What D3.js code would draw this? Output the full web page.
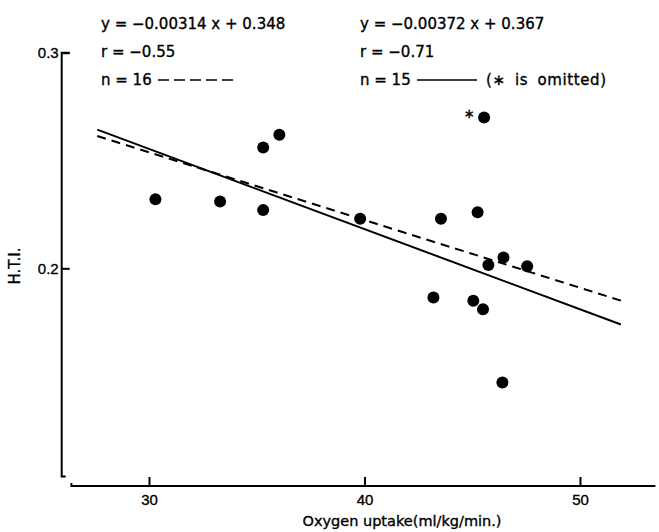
<!DOCTYPE html>
<html>
<head>
<meta charset="utf-8">
<script src="https://cdn.jsdelivr.net/npm/d3@7"></script>
<style>
  body { margin: 0; background: #fff; }
  svg { display: block; font-family: "DejaVu Sans", sans-serif; }
  svg text { stroke: #000; stroke-width: 0.35px; fill: #000; }
</style>
</head>
<body>
<div class="chart"></div>
<script>
// oxygen uptake (ml/kg/min) and H.T.I. for each subject
const oxygen = [30.3, 33.3, 35.3, 36.05, 35.3, 39.8, 43.55, 45.25, 45.55, 46.45, 45.75, 47.55, 43.2, 45.05, 45.5, 46.4];
const hti    = [0.232, 0.231, 0.256, 0.262, 0.227, 0.223, 0.223, 0.226, 0.270, 0.205, 0.2015, 0.201, 0.1865, 0.185, 0.181, 0.147];
const omitted = [8]; // index of the point marked with *

// regression lines (slope, intercept)
const fitAll = { slope: -0.00314, intercept: 0.348, dash: '9,6' };   // n = 16
const fitOmit = { slope: -0.00372, intercept: 0.367, dash: null };   // n = 15
const fitRange = [27.6, 51.9];

const xTicks = [30, 40, 50];
const yTicks = [0.2, 0.3];

const width = 659, height = 532;

const x = d3.scaleLinear().domain([26.4, 53.5]).range([71.4, 655.4]);
const y = d3.scaleLinear().domain([0.1035, 0.3]).range([476.4, 52.7]);

const svg = d3.select('.chart').append('svg')
  .attr('width', width)
  .attr('height', height);

svg.append('rect').attr('width', width).attr('height', height).attr('fill', '#fff');

// y axis (ticks point inward)
const yAxis = svg.append('g')
  .attr('transform', `translate(${x.range()[0] - 9.7},0)`)
  .call(d3.axisLeft(y).tickValues(yTicks).tickFormat(d3.format('.1f'))
    .tickSizeInner(-8).tickSizeOuter(0).tickPadding(3));
yAxis.select('.domain').remove();
yAxis.append('path')
  .attr('d', `M8,${y(0.3)}H0V${y.range()[0]}H4`)
  .attr('fill', 'none').attr('stroke', '#000').attr('stroke-width', 2);
yAxis.selectAll('.tick line').attr('stroke-width', 2);
yAxis.selectAll('.tick text').attr('font-size', 15);

// x axis (ticks point up)
const xAxisY = 486;
const xAxis = svg.append('g')
  .attr('transform', `translate(0,${xAxisY})`)
  .call(d3.axisBottom(x).tickValues(xTicks).tickFormat(d3.format('d'))
    .tickSizeInner(-9).tickSizeOuter(0).tickPadding(8));
xAxis.select('.domain').remove();
xAxis.append('path')
  .attr('d', `M${x.range()[0]},-3V0H${x.range()[1]}`)
  .attr('fill', 'none').attr('stroke', '#000').attr('stroke-width', 2);
xAxis.selectAll('.tick line').attr('stroke-width', 2);
xAxis.selectAll('.tick text').attr('font-size', 15);

// axis titles
svg.append('text')
  .attr('x', 402).attr('y', 526)
  .attr('text-anchor', 'middle')
  .attr('font-size', 14.5)
  .text('Oxygen uptake(ml/kg/min.)');

svg.append('text')
  .attr('transform', 'translate(20,266) rotate(-90)')
  .attr('text-anchor', 'middle')
  .attr('font-size', 15)
  .text('H.T.I.');

// regression lines
const fitLine = d3.line().x(d => x(d[0])).y(d => y(d[1]));
[fitAll, fitOmit].forEach(f => {
  svg.append('path')
    .datum(fitRange.map(v => [v, f.slope * v + f.intercept]))
    .attr('d', fitLine)
    .attr('fill', 'none')
    .attr('stroke', '#000')
    .attr('stroke-width', 2)
    .attr('stroke-dasharray', f.dash);
});

// points
const points = oxygen.map((v, i) => ({ x: v, y: hti[i], omit: omitted.includes(i) }));
svg.selectAll('circle.pt').data(points).enter().append('circle')
  .attr('class', 'pt')
  .attr('cx', d => x(d.x))
  .attr('cy', d => y(d.y))
  .attr('r', 6)
  .attr('fill', '#000');

svg.selectAll('text.star').data(points.filter(d => d.omit)).enter().append('text')
  .attr('class', 'star')
  .attr('x', d => x(d.x) - 15)
  .attr('y', d => y(d.y) + 1)
  .attr('text-anchor', 'middle')
  .attr('font-size', 13)
  .text('\u2217');

// equations
const notes = [
  { x: 101, lines: ['y = \u22120.00314 x + 0.348', 'r = \u22120.55', 'n = 16'], fit: fitAll, tail: '' },
  { x: 360, lines: ['y = \u22120.00372 x + 0.367', 'r = \u22120.71', 'n = 15'], fit: fitOmit, tail: '(\u2217 is omitted)' }
];
const baselines = [29, 57, 85];
notes.forEach(n => {
  n.lines.forEach((t, i) => {
    svg.append('text')
      .attr('x', n.x).attr('y', baselines[i])
      .attr('font-size', 15)
      .text(t);
  });
  const lx0 = n.x + 57, lx1 = lx0 + (n.fit.dash ? 75 : 60);
  svg.append('line')
    .attr('x1', lx0).attr('x2', lx1)
    .attr('y1', baselines[2] - 5).attr('y2', baselines[2] - 5)
    .attr('stroke', '#000').attr('stroke-width', 1.6)
    .attr('stroke-dasharray', n.fit.dash ? '11,5' : null);
  if (n.tail) {
    svg.append('text')
      .attr('x', lx1 + 9).attr('y', baselines[2])
      .attr('font-size', 15)
      .attr('letter-spacing', 0.6)
      .attr('word-spacing', 4)
      .text(n.tail);
  }
});
</script>
</body>
</html>
